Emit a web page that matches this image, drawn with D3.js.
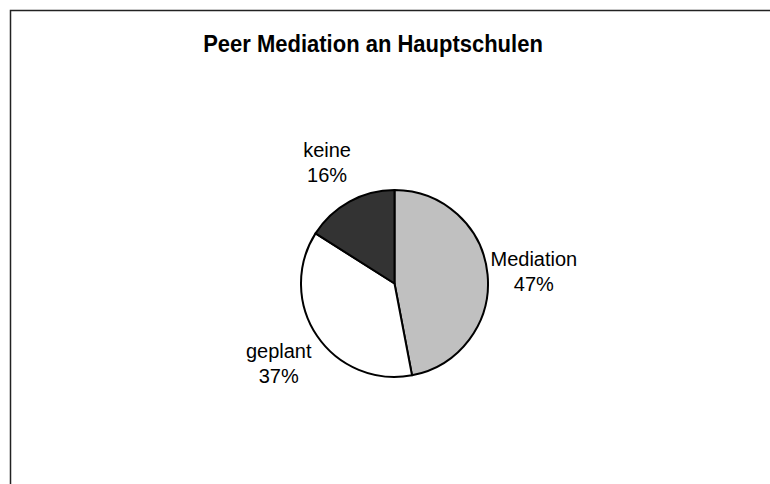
<!DOCTYPE html>
<html>
<head>
<meta charset="utf-8">
<script src="https://cdn.jsdelivr.net/npm/d3@7"></script>
<style>
  html, body { margin: 0; padding: 0; background: #fff; }
  svg { display: block; }
</style>
</head>
<body>
<div id="chart"></div>
<script>
// --- data ---
const categories = ['Mediation', 'geplant', 'keine'];
const values = [47, 37, 16];
const colors = ['#c0c0c0', '#ffffff', '#333333'];
const title = 'Peer Mediation an Hauptschulen';

const width = 770;
const height = 484;
const cx = 394.5;
const cy = 283.5;
const radius = 93.5;
const labelRadius = 140;

const svg = d3.select('#chart').append('svg')
  .attr('width', width)
  .attr('height', height);

// chart frame (cropped on right and bottom)
svg.append('rect')
  .attr('x', 10.5)
  .attr('y', 10.5)
  .attr('width', 900)
  .attr('height', 600)
  .attr('fill', '#fff')
  .attr('stroke', '#222')
  .attr('stroke-width', 1.5);

// title, slightly stretched vertically like the original
svg.append('text')
  .attr('transform', 'translate(373,52) scale(1,1.12)')
  .attr('text-anchor', 'middle')
  .attr('font-family', 'Liberation Sans, Arial, sans-serif')
  .attr('font-weight', 'bold')
  .attr('font-size', 22)
  .attr('fill', '#000')
  .text(title);

const data = categories.map((c, i) => ({ name: c, value: values[i], color: colors[i] }));

const pie = d3.pie()
  .value(d => d.value)
  .sort(null);

const arc = d3.arc().innerRadius(0).outerRadius(radius);
const labelArc = d3.arc().innerRadius(labelRadius).outerRadius(labelRadius);

const g = svg.append('g').attr('transform', `translate(${cx},${cy})`);

const arcs = pie(data);

g.selectAll('path.slice')
  .data(arcs)
  .join('path')
  .attr('class', 'slice')
  .attr('d', arc)
  .attr('fill', d => d.data.color)
  .attr('stroke', '#000')
  .attr('stroke-width', 2)
  .attr('stroke-linejoin', 'round');

// labels: name + percent
const total = d3.sum(values);
const labels = g.selectAll('text.label')
  .data(arcs)
  .join('text')
  .attr('class', 'label')
  .attr('text-anchor', 'middle')
  .attr('font-family', 'Liberation Sans, Arial, sans-serif')
  .attr('font-size', 20)
  .attr('fill', '#000')
  .attr('transform', d => `translate(${labelArc.centroid(d)})`);

labels.append('tspan')
  .attr('x', 0)
  .attr('y', -4)
  .text(d => d.data.name);

labels.append('tspan')
  .attr('x', 0)
  .attr('y', 21)
  .text(d => `${Math.round(d.data.value / total * 100)}%`);
</script>
</body>
</html>
